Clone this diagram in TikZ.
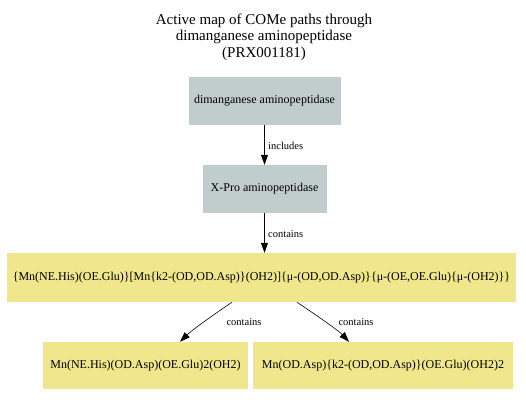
\documentclass[tikz,border=0pt]{standalone}
\usepackage{fontspec}
\setmainfont{Liberation Serif}
\usetikzlibrary{arrows.meta,calc}
\definecolor{boxgray}{RGB}{193,205,205}
\definecolor{boxyellow}{RGB}{240,230,140}
\tikzset{
  graybox/.style={rectangle, fill=boxgray, inner sep=0pt, font=\fontsize{12}{14}\selectfont},
  yellowbox/.style={rectangle, fill=boxyellow, inner sep=0pt, font=\fontsize{12}{14}\selectfont},
  edge/.style={draw=black, line width=0.6pt, -{Triangle[length=10pt,width=7pt]}},
  elabel/.style={font=\fontsize{10.5}{12}\selectfont, inner sep=0pt},
}
\begin{document}
\begin{tikzpicture}[x=1pt,y=-1pt]
\useasboundingbox (0,0) rectangle (526,406);
\node[align=center, font=\fontsize{15}{16.5}\selectfont, inner sep=0pt] (title) at (264,37)
  {Active map of COMe paths through\\dimanganese aminopeptidase\\(PRX001181)};
\node[graybox, minimum width=152pt, minimum height=48pt] (b1) at (264.5,101) {dimanganese aminopeptidase};
\node[graybox, minimum width=124pt, minimum height=48pt] (b2) at (264.5,189) {X-Pro aminopeptidase};
\node[yellowbox, minimum width=509pt, minimum height=49pt] (b3) at (261.5,277.5)
  {\{Mn(NE.His)(OE.Glu)\}[Mn\{k2-(OD,OD.Asp)\}(OH2)]\{μ-(OD,OD.Asp)\}\{μ-(OE,OE.Glu)\{μ-(OH2)\}\}};
\node[yellowbox, minimum width=205pt, minimum height=47pt] (b4) at (145.5,365.5) {Mn(NE.His)(OD.Asp)(OE.Glu)2(OH2)};
\node[yellowbox, minimum width=260pt, minimum height=47pt] (b5) at (383,365.5) {Mn(OD.Asp)\{k2-(OD,OD.Asp)\}(OE.Glu)(OH2)2};

\draw[edge] (b1.south) -- (b2.north);
\draw[edge] (b2.south) -- (b2.south |- b3.north);
\draw[edge] ($(b3.south)+(-29.5,0)$) .. controls (216,313) and (192,330) .. ($(b4.north)+(34.5,0)$);
\draw[edge] ($(b3.south)+(35.5,0)$) .. controls (313,313) and (338,330) .. ($(b5.north)+(-34,0)$);

\node[elabel, anchor=west] (l1) at (268,146) {includes};
\node[elabel, anchor=west] (l2) at (268,234) {contains};
\node[elabel] (l3) at (244,322) {contains};
\node[elabel] (l4) at (356,322) {contains};
\end{tikzpicture}
\end{document}
